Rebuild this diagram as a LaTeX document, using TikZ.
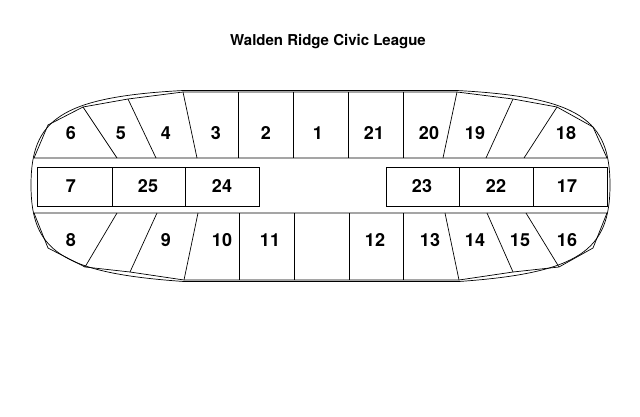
\documentclass[tikz,border=0pt]{standalone}
\usepackage{fontspec}
\setmainfont{TeX Gyre Heros}
\usetikzlibrary{positioning}
\tikzset{
  lotnum/.style={font=\bfseries\fontsize{18}{21}\selectfont,inner sep=0},
  lotline/.style={draw,line width=0.7pt},
  title/.style={font=\bfseries\fontsize{15}{18}\selectfont},
}
\begin{document}
\begin{tikzpicture}[x=1pt,y=-1pt]
    \useasboundingbox (0,0) rectangle (640,416);
    \node (title) [title] at (328,42) {Walden Ridge Civic League};

    % outer rim
    \path [lotline] (183,90.5) -- (457,90.5)
      .. controls (580,97) and (610,120) .. (610,185)
      .. controls (610,250) and (580,273) .. (459,281.5) -- (184,281.5)
      .. controls (60,273) and (31,250) .. (31,185)
      .. controls (31,120) and (60,97) .. (183,90.5);

    % top row
    \path [lotline] (34,158) -- (48,125) -- (83,107) -- (128,99) -- (183,92) -- (457,92)
      -- (513,99) -- (557,107) -- (593,127) -- (607,158) -- cycle;
    \foreach \a/\b in {83/117,128/156,183/197,238/238,293/293,348/348,403/403,457/443,513/486,557/524}
      \path [lotline] (\a,{\a==83 ? 107 : (\a==557 ? 107 : (\a==128 || \a==513 ? 99 : 92))}) -- (\b,158);

    % bottom row
    \path [lotline] (34,213) -- (48,248) -- (85,267) -- (130,272) -- (184,280) -- (459,280)
      -- (513,272) -- (559,267) -- (593,248) -- (607,213) -- cycle;
    \path [lotline] (117,213) -- (85,267);
    \path [lotline] (157,213) -- (130,272);
    \path [lotline] (198,213) -- (184,280);
    \foreach \x in {239,294,349,403}
      \path [lotline] (\x,213) -- (\x,280);
    \path [lotline] (445,213) -- (459,280);
    \path [lotline] (487,213) -- (513,272);
    \path [lotline] (526,213) -- (559,267);

    % middle strips
    \path [lotline] (37,167) rectangle (259,206);
    \path [lotline] (386,167) rectangle (607,206);
    \foreach \x in {112,185,459,533}
      \path [lotline] (\x,167) -- (\x,206);

    % lot numbers
    \foreach \n/\x/\y in {6/71/133,5/121/133,4/166/133,3/216/133,2/266/133,1/318/133,
        21/374/133,20/429/133,19/475/133,18/566/133,
        7/71/186,25/148/186,24/222/186,23/422/186,22/496/186,17/567/186,
        8/71/240,9/166/240,10/222/240,11/270/240,12/375/240,13/430/240,
        14/475/240,15/520/240,16/567/240}
      \node (lot\n) [lotnum] at (\x,\y) {\n};
\end{tikzpicture}
\end{document}
